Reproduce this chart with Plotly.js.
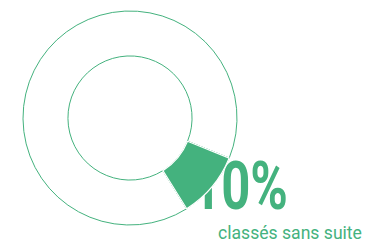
<!DOCTYPE html>
<html><head><meta charset="utf-8">
<script src="https://cdn.plot.ly/plotly-3.0.1.min.js"></script>
<style>html,body{margin:0;padding:0;background:#fff}#c{width:368px;height:243px}</style>
</head><body><div id="c"></div>
<script>
const labels = ["classés sans suite", "autres"];
const values = [10, 90];
const bigLabel = "10%";
const subLabel = "classés sans suite";
const green = "#44b27e";

const W = 368, H = 243;
const dom = {x: [23/W, 237/W], y: [1 - 225/H, 1 - 11/H]};
const base = {
  type: "pie", labels: labels, values: values, hole: 0.58, sort: false,
  direction: "clockwise", rotation: 112, textinfo: "none", hoverinfo: "none",
  domain: dom, showlegend: false
};
const data = [
  Object.assign({}, base, {marker: {colors: [green, "rgba(255,255,255,0)"], line: {color: green, width: 1}}}),
  // white edge of the highlighted slice, drawn over the big number
  Object.assign({}, base, {marker: {colors: ["rgba(0,0,0,0)", "rgba(0,0,0,0)"], line: {color: ["#ffffff", "rgba(0,0,0,0)"], width: 1.2}}})
];
const layout = {
  width: W, height: H,
  margin: {l: 0, r: 0, t: 0, b: 0},
  paper_bgcolor: "#fff",
  showlegend: false,
  annotations: [
    {text: "<b>" + bigLabel + "</b>", xref: "paper", yref: "paper", x: 191/W, y: 1 - 186/H,
     xanchor: "left", yanchor: "middle", showarrow: false,
     font: {family: "Roboto, sans-serif", size: 66, color: green}},
    {text: subLabel, xref: "paper", yref: "paper", x: 364/W, y: 1 - 232/H,
     xanchor: "right", yanchor: "middle", showarrow: false,
     font: {family: "Roboto, sans-serif", size: 19, color: green}}
  ]
};
Plotly.newPlot("c", data, layout, {staticPlot: true, displayModeBar: false}).then(function () {
  // squeeze texts horizontally to imitate the condensed typeface
  const targets = [{left: 192, right: 288}, {left: 218, right: 362}];
  const texts = document.querySelectorAll(".annotation-text");
  texts.forEach(function (t, i) {
    const tg = targets[i];
    if (!tg) return;
    const bb = t.getBBox();
    const sx = (tg.right - tg.left) / bb.width;
    const svgRect = t.ownerSVGElement.getBoundingClientRect();
    const cr = t.getBoundingClientRect();
    const offset = (cr.left - svgRect.left) - bb.x;
    const L = tg.left - offset;
    const prev = t.getAttribute("transform") || "";
    t.setAttribute("transform", "translate(" + L + ",0) scale(" + sx + ",1) translate(" + (-bb.x) + ",0) " + prev);
  });
  // put the texts below the donut so that the slice edge crosses over the big number
  const pielayer = document.querySelector(".pielayer");
  if (pielayer) {
    document.querySelectorAll("g.annotation").forEach(function (a) {
      pielayer.parentNode.insertBefore(a, pielayer);
    });
  }
});
</script></body></html>
